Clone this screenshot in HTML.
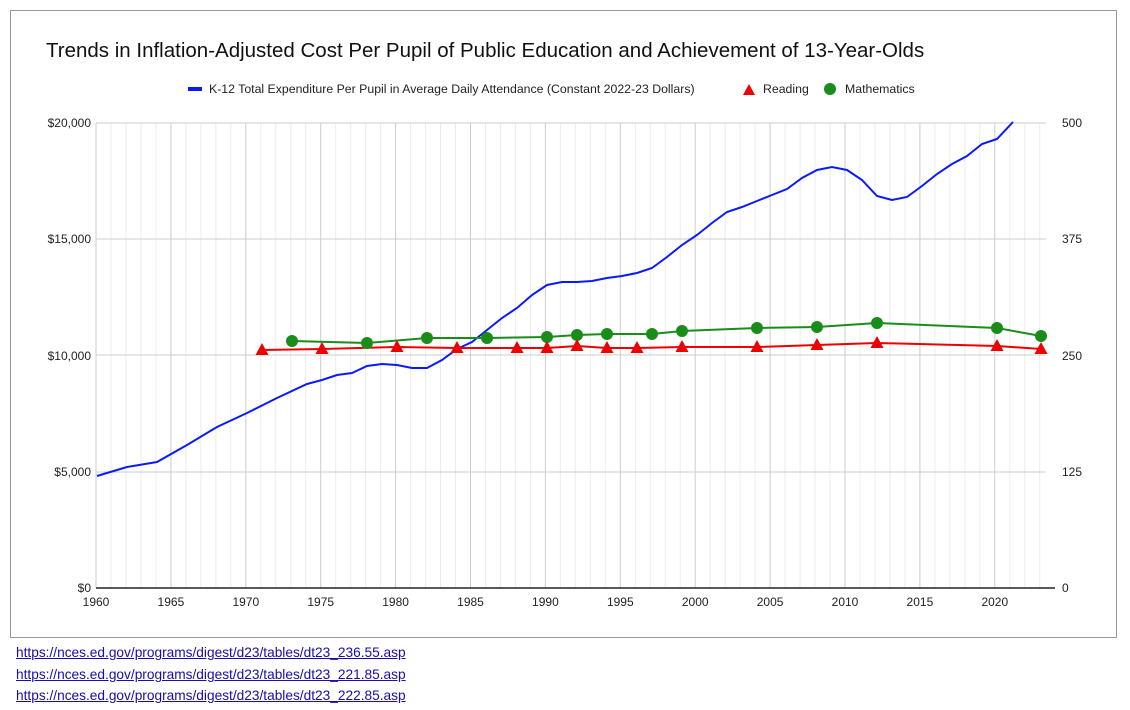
<!DOCTYPE html><html><head><style>body{margin:0;background:#fff;width:1130px;height:710px;overflow:hidden;font-family:"Liberation Sans",Arial,sans-serif}
.l{position:absolute;left:16px;font-size:13.7px;color:#1a0dab;text-decoration:underline}</style></head><body>
<svg width="1130" height="710" style="position:absolute;left:0;top:0" font-family="Liberation Sans, Arial, sans-serif">
<rect x="10.5" y="10.5" width="1106" height="627" fill="#fff" stroke="#999"/>
<text x="46" y="57" font-size="20.5" fill="#111">Trends in Inflation-Adjusted Cost Per Pupil of Public Education and Achievement of 13-Year-Olds</text>
<rect x="188" y="87" width="14" height="4" fill="#0a1aff"/>
<text x="209" y="93" font-size="12.3" fill="#222">K-12 Total Expenditure Per Pupil in Average Daily Attendance (Constant 2022-23 Dollars)</text>
<polygon points="749,84 755,95 743,95" fill="#e00" transform="translate(0,0)"/><text x="763" y="93" font-size="12.3" fill="#222">Reading</text>
<circle cx="830" cy="89" r="6" fill="#1a8c1a"/><text x="845" y="93" font-size="12.3" fill="#222">Mathematics</text>
<g id="g"></g>
<g font-size="12" fill="#222" text-anchor="end">
<text x="91" y="127">$20,000</text><text x="91" y="243">$15,000</text><text x="91" y="360">$10,000</text><text x="91" y="476">$5,000</text><text x="91" y="592">$0</text></g>
<g font-size="12" fill="#222"><text x="1062" y="127">500</text><text x="1062" y="243">375</text><text x="1062" y="360">250</text><text x="1062" y="476">125</text><text x="1062" y="592">0</text></g>
<line x1="96" y1="588" x2="1055" y2="588" stroke="#222" stroke-width="1.5"/>
<g id="xl" font-size="12" fill="#222" text-anchor="middle"></g>
<polyline fill="none" stroke="#0a1aff" stroke-width="2" points="97,476 127,467 157,462 187,445 217,427 247,413 277,398 307,384 322,380 337,375 352,373 367,366 382,364 397,365 412,368 427,368 442,360 457,349 472,342 487,330 502,318 517,308 532,295 547,285 562,282 577,282 592,281 607,278 622,276 637,273 652,268 667,257 682,245 697,235 712,223 727,212 742,207 757,201 772,195 787,189 802,178 817,170 832,167 847,170 862,180 877,196 892,200 907,197 922,186 937,174 952,164 967,156 982,144 997,139 1013,122"/>
<polyline id="m" fill="none" stroke="#1a8c1a" stroke-width="2" points="292,341 367,343 427,338 487,338 547,337 577,335 607,334 652,334 682,331 757,328 817,327 877,323 997,328 1041,336"/>
<polyline id="r" fill="none" stroke="#e00" stroke-width="2" points="262,350 322,349 397,347 457,348 517,348 547,348 577,346 607,348 637,348 682,347 757,347 817,345 877,343 997,346 1041,349"/>
<g id="mk"></g>
</svg>
<div class="l" style="top:645px">https://nces.ed.gov/programs/digest/d23/tables/dt23_236.55.asp</div>
<div class="l" style="top:667px">https://nces.ed.gov/programs/digest/d23/tables/dt23_221.85.asp</div>
<div class="l" style="top:688px">https://nces.ed.gov/programs/digest/d23/tables/dt23_222.85.asp</div>
<script>
var ns="http://www.w3.org/2000/svg",g=document.getElementById('g'),xl=document.getElementById('xl'),mk=document.getElementById('mk');
function el(p,t,a,txt){var e=document.createElementNS(ns,t);for(var k in a)e.setAttribute(k,a[k]);if(txt)e.textContent=txt;p.appendChild(e);}
for(var y=1960;y<=2023;y++){var x=96+(y-1960)*14.98;el(g,'line',{x1:x,x2:x,y1:123,y2:588,stroke:y%5?'#ececec':'#ccc','stroke-width':1});if(y%5==0)el(xl,'text',{x:x,y:606},''+y);}
[123,239,355,472].forEach(function(v){el(g,'line',{x1:96,x2:1046,y1:v,y2:v,stroke:'#ccc'})});
document.getElementById('m').getAttribute('points').split(' ').forEach(function(p){var c=p.split(',');el(mk,'circle',{cx:c[0],cy:c[1],r:6,fill:'#1a8c1a'})});
document.getElementById('r').getAttribute('points').split(' ').forEach(function(p){var c=p.split(','),x=+c[0],y=+c[1];el(mk,'polygon',{points:(x)+','+(y-7)+' '+(x+6.5)+','+(y+5)+' '+(x-6.5)+','+(y+5),fill:'#e00'})});
</script>
</body></html>
